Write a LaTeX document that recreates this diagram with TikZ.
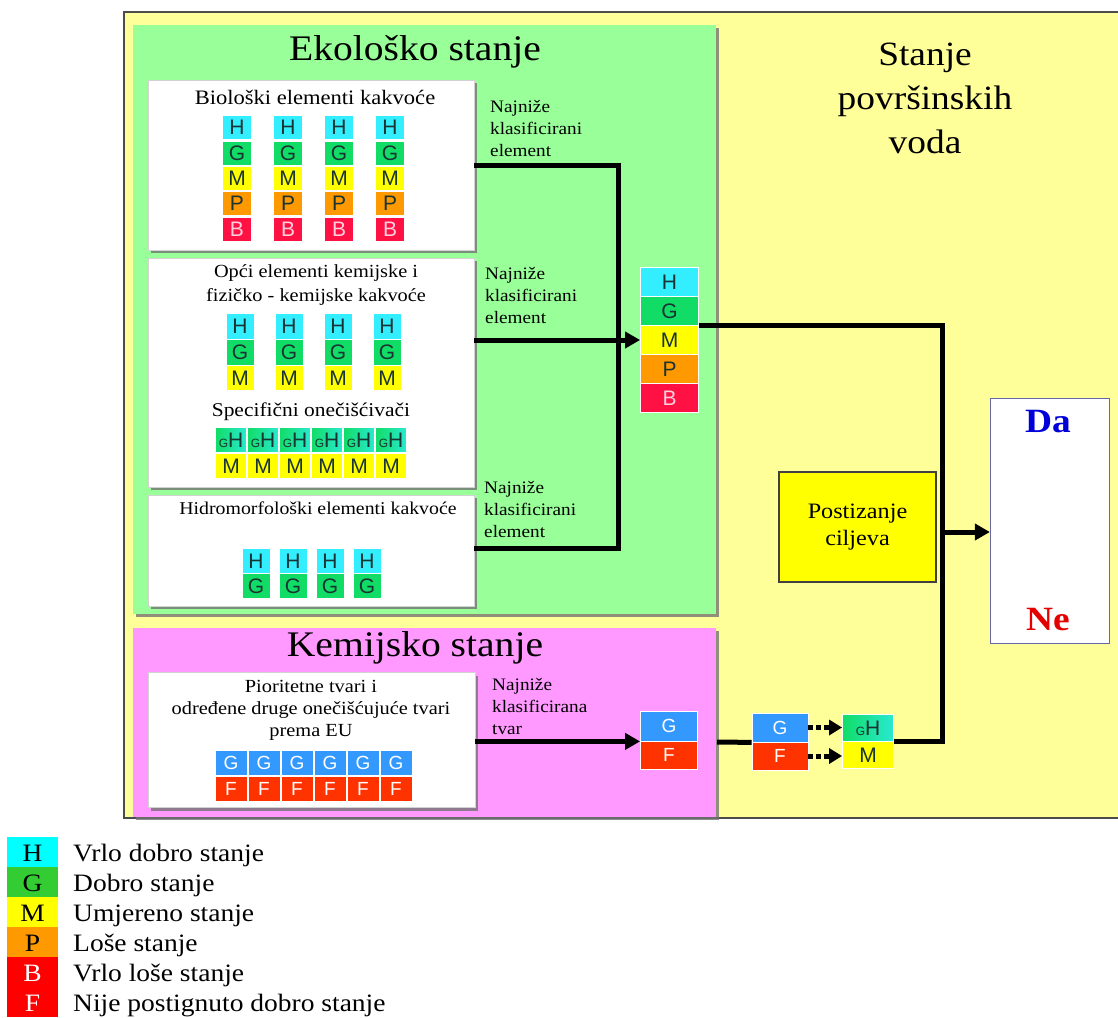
\documentclass[tikz,border=0pt]{standalone}
\usepackage{fontspec}
\setmainfont{Liberation Serif}[FakeStretch=1.1]
\newfontfamily\cellfam{Liberation Sans}
\usetikzlibrary{arrows.meta,shadows,calc}
\newcommand\fsz[2]{\fontsize{#1}{#2}\selectfont}
\definecolor{yellowbg}{HTML}{FFFF99}
\definecolor{greenbg}{HTML}{99FF99}
\definecolor{pinkbg}{HTML}{FF99FF}
\definecolor{cH}{HTML}{33EEFF}
\definecolor{cG}{HTML}{11DD66}
\definecolor{cM}{HTML}{FFFF00}
\definecolor{cP}{HTML}{FF9900}
\definecolor{cB}{HTML}{FF1144}
\definecolor{cGb}{HTML}{3399FF}
\definecolor{cF}{HTML}{FF3300}
\definecolor{celltxt}{HTML}{1A3333}
\definecolor{btxt}{HTML}{FFD0DD}
\definecolor{lH}{HTML}{00FFFF}
\definecolor{lG}{HTML}{33CC33}
\definecolor{lM}{HTML}{FFFF00}
\definecolor{lP}{HTML}{FF9900}
\definecolor{lB}{HTML}{FF0000}
\definecolor{daneborder}{HTML}{6666AA}
\tikzset{
  conn/.style={line width=5pt, black},
  arr/.style={conn, -{Triangle[length=15pt,width=16pt]}},
  dasharr/.style={line width=5pt, black, dash pattern=on 5pt off 3pt, -{Triangle[length=13pt,width=15pt]}},
  shad/.style={drop shadow={shadow xshift=3pt, shadow yshift=-3pt, fill=black!55, opacity=0.8}},
  wbox/.style={draw=gray!35, fill=white, line width=0.5pt, shad, inner sep=0pt},
  cell/.style={draw=white, line width=0.8pt, inner sep=0pt, font=\cellfam\fsz{21}{21}, text=celltxt},
  cellH/.style={cell, fill=cH},
  cellG/.style={cell, fill=cG},
  cellM/.style={cell, fill=cM},
  cellP/.style={cell, fill=cP},
  cellB/.style={cell, fill=cB, text=btxt},
  cellGH/.style={cell, left color=cG, right color=cH!70!cG},
  cellGb/.style={cell, fill=cGb, text=white, font=\cellfam\fsz{19}{19}},
  cellF/.style={cell, fill=cF, text=white, font=\cellfam\fsz{19}{19}},
  lab/.style={align=left, anchor=west, font=\fsz{17.5}{22}, inner sep=0pt},
  legcell/.style={inner sep=0pt, minimum width=51pt, minimum height=30pt, font=\fsz{24}{24}},
  legtxt/.style={inner sep=0pt, font=\fsz{25}{25}},
}
\newcommand\gH{{\fsz{12}{12}G}H}
\begin{document}
\begin{tikzpicture}[x=1pt,y=-1pt]
\useasboundingbox (0,0) rectangle (1118,1017);
% panels
\draw[draw=gray!60!black, line width=1.5pt, fill=yellowbg] (124,12) rectangle (1119,818);
\path[fill=greenbg, shad] (133,25) rectangle (716,614);
\path[fill=pinkbg, shad] (133,628) rectangle (716,817);

% titles
\node[font=\fsz{36}{40}] (tEko) at (415,52) {Ekološko stanje};
\node[font=\fsz{36}{40}] (tKem) at (415,648) {Kemijsko stanje};
\node[font=\fsz{34}{44}, align=center] (tStanje) at (925,98) {Stanje\\površinskih\\voda};

% white boxes
\node[wbox, minimum width=326pt, minimum height=170pt] (b1) at (311,165) {};
\node[wbox, minimum width=326pt, minimum height=229pt] (b2) at (311,372.5) {};
\node[wbox, minimum width=326pt, minimum height=111pt] (b3) at (311,550.5) {};
\node[wbox, minimum width=327pt, minimum height=135pt] (cb) at (311.5,740) {};

\node[font=\fsz{20.5}{24}] (b1t) at (315,97) {Biološki elementi kakvoće};
\node[font=\fsz{18.5}{24}, align=center] (b2t) at (316,285) {Opći elementi kemijske i\\fizičko - kemijske kakvoće};
\node[font=\fsz{19.5}{24}] (b2s) at (311,412) {Specifični onečišćivači};
\node[font=\fsz{18}{22}] (b3t) at (318,508) {Hidromorfološki elementi kakvoće};
\node[font=\fsz{18.5}{22}, align=center] (cbt) at (311,710) {Pioritetne tvari i\\određene druge onečišćujuće tvari\\prema EU};

% box 1 cells
\foreach \c [count=\i] in {237,288,339,390} {
  \node[cellH, minimum width=29pt, minimum height=24pt] (b1H\i) at (\c,127) {H};
  \node[cellG, minimum width=29pt, minimum height=24pt] (b1G\i) at (\c,153) {G};
  \node[cellM, minimum width=29pt, minimum height=24pt] (b1M\i) at (\c,178) {M};
  \node[cellP, minimum width=29pt, minimum height=24pt] (b1P\i) at (\c,203) {P};
  \node[cellB, minimum width=29pt, minimum height=24pt] (b1B\i) at (\c,229) {B};
}
% box 2 cells
\foreach \c [count=\i] in {240,289,338,387} {
  \node[cellH, minimum width=28pt, minimum height=26pt] (b2H\i) at (\c,326) {H};
  \node[cellG, minimum width=28pt, minimum height=26pt] (b2G\i) at (\c,352) {G};
  \node[cellM, minimum width=28pt, minimum height=25pt] (b2M\i) at (\c,378) {M};
}
\foreach \i in {1,...,6} {
  \node[cellGH, minimum width=31pt, minimum height=25pt] (sp\i) at ({231+32*(\i-1)},440) {\gH};
  \node[cellM, minimum width=31pt, minimum height=25pt] (spM\i) at ({231+32*(\i-1)},466) {M};
}
% box 3 cells
\foreach \c [count=\i] in {256,293,330,367} {
  \node[cellH, minimum width=28pt, minimum height=25pt] (b3H\i) at (\c,561) {H};
  \node[cellG, minimum width=28pt, minimum height=25pt] (b3G\i) at (\c,586) {G};
}
% chem cells
\foreach \i in {1,...,6} {
  \node[cellGb, minimum width=32pt, minimum height=25pt] (cG\i) at ({231+33*(\i-1)},763) {G};
  \node[cellF, minimum width=32pt, minimum height=25pt] (cF\i) at ({231+33*(\i-1)},789) {F};
}

% result stack
\node[cellH, minimum width=58pt, minimum height=29pt] (resH) at (669.5,282) {H};
\node[cellG, minimum width=58pt, minimum height=29pt] (resG) at (669.5,311) {G};
\node[cellM, minimum width=58pt, minimum height=29pt] (resM) at (669.5,340) {M};
\node[cellP, minimum width=58pt, minimum height=29pt] (resP) at (669.5,369) {P};
\node[cellB, minimum width=58pt, minimum height=29pt] (resB) at (669.5,398) {B};

% chem stacks
\node[cellGb, minimum width=57pt, minimum height=30pt] (gf1G) at (669,726) {G};
\node[cellF, minimum width=57pt, minimum height=28pt] (gf1F) at (669,755) {F};
\node[cellGb, minimum width=56pt, minimum height=29pt] (gf2G) at (780,727.5) {G};
\node[cellF, minimum width=56pt, minimum height=28pt] (gf2F) at (780,756) {F};
\node[cellGH, minimum width=51pt, minimum height=27pt] (sH) at (868,728) {\gH};
\node[cellM, minimum width=51pt, minimum height=27pt] (sM) at (868,755) {M};

% goal boxes
\node[draw=gray!50!black, line width=1.2pt, fill=cM, minimum width=157pt, minimum height=110pt, align=center, font=\fsz{22}{27}] (goal) at (857.5,527) {Postizanje\\ciljeva};
\node[draw=daneborder, line width=1.2pt, fill=white, minimum width=119pt, minimum height=245pt] (dane) at (1050,521) {};
\node[font=\bfseries\fsz{34}{34}, text=blue!85!black] (da) at (1048,422) {Da};
\node[font=\bfseries\fsz{34}{34}, text=red!90!black] (ne) at (1048,620) {Ne};

% labels
\node[lab] (l1) at (490,128) {Najniže\\klasificirani\\element};
\node[lab] (l2) at (485,295) {Najniže\\klasificirani\\element};
\node[lab] (l3) at (484,509) {Najniže\\klasificirani\\element};
\node[lab] (l4) at (492,706) {Najniže\\klasificirana\\tvar};

% connectors
\coordinate (jn) at (618,340);
\coordinate (j2) at (942,532);
\coordinate (pe) at (717,742);
\draw[conn] (b1.east) -| (jn);
\draw[conn] (b3.east |- 0,548) -| (jn);
\draw[arr] (b2.east |- resM.west) -- (resM.west);
\draw[arr] (cb.east |- gf1G.south west) -- (gf1G.south west);
\draw[conn] (pe) -- (gf2G.south west);
\draw[dasharr] (gf2G.east) -- (gf2G.east -| sH.west);
\draw[dasharr] (gf2F.east) -- (gf2F.east -| sM.west);
\draw[conn] (resG.south east) -| (j2);
\draw[conn] (sH.south east) -| (j2);
\draw[arr] (j2) -- (dane.west |- j2);

% legend
\foreach \l/\c/\t/\tc [count=\i] in {H/lH/Vrlo dobro stanje/black, G/lG/Dobro stanje/black, M/lM/Umjereno stanje/black, P/lP/Loše stanje/black, B/lB/Vrlo loše stanje/white, F/lB/Nije postignuto dobro stanje/white} {
  \node[legcell, fill=\c] (leg\l) at (32.5,{822+30*\i}) {};
  \node[legtxt, anchor=base, text=\tc] (legl\l) at (32.5,{831+30*\i}) {\l};
  \node[legtxt, anchor=base west] (legt\l) at (73,{831+30*\i}) {\t};
}
\end{tikzpicture}
\end{document}
